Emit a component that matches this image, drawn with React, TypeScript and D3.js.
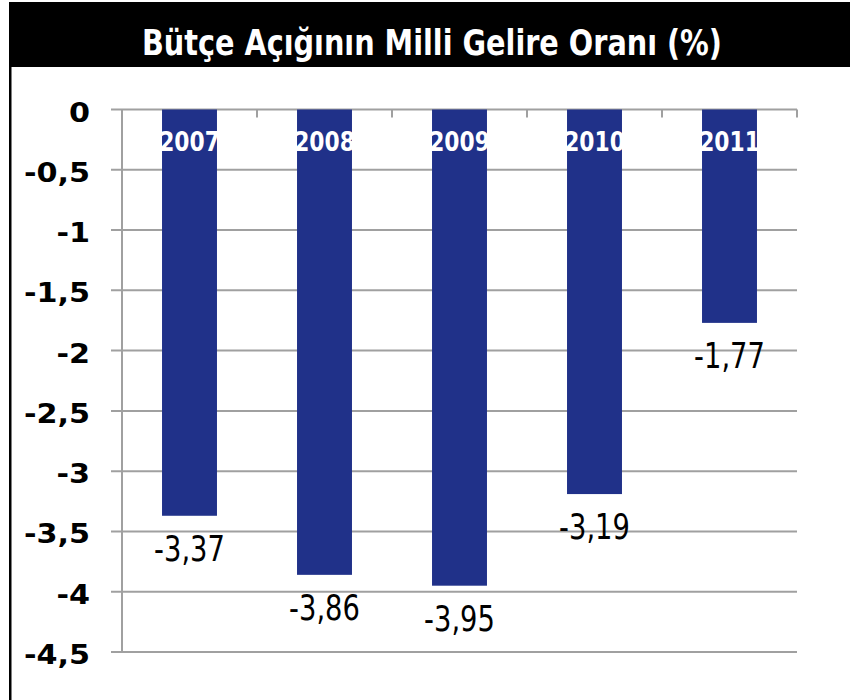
import React from 'react';
import * as d3 from 'd3';

const years = ['2007', '2008', '2009', '2010', '2011'];
const values = [-3.37, -3.86, -3.95, -3.19, -1.77];
const yTicks = [0, -0.5, -1, -1.5, -2, -2.5, -3, -3.5, -4, -4.5];
const title = 'Bütçe Açığının Milli Gelire Oranı (%)';

const W = 850;
const H = 700;
const fmt = (v: number) => String(v).replace('.', ',');

const App: React.FC = () => {
  const x = d3.scaleBand<string>()
    .domain(years)
    .range([122, 797])
    .paddingInner(0.593)
    .paddingOuter(0.2965);

  const y = d3.scaleLinear()
    .domain([-4.5, 0])
    .range([652, 109.5]);

  const step = x.step();
  const grid = '#a0a0a0';

  return (
    <svg width={W} height={H} style={{ position: 'absolute', left: 0, top: 0, background: '#fff' }}>
      {/* title band */}
      <rect x={9} y={2} width={W - 9} height={65} fill="#000" />
      <text x={432} y={55} fill="#fff" fontFamily="DejaVu Sans" fontWeight="bold" fontSize={35}
        textAnchor="middle" textLength={580} lengthAdjust="spacingAndGlyphs">{title}</text>
      <rect x={9} y={67} width={2.5} height={H - 67} fill="#000" />

      {/* gridlines + y labels */}
      {yTicks.map(t => (
        <g key={t}>
          <line x1={111} x2={797} y1={y(t)} y2={y(t)} stroke={grid} strokeWidth={2} />
          <text transform={`translate(90,${y(t) + 12}) scale(1.12,1)`} textAnchor="end"
            fontFamily="DejaVu Sans" fontWeight="bold" fontSize={27} fill="#000">{fmt(t)}</text>
        </g>
      ))}
      {/* vertical axis */}
      <line x1={122} x2={122} y1={y(0)} y2={y(-4.5)} stroke={grid} strokeWidth={2} />
      {/* category ticks */}
      {d3.range(1, years.length + 1).map(i => (
        <line key={i} x1={122 + i * step} x2={122 + i * step} y1={y(0)} y2={y(0) + 8}
          stroke={grid} strokeWidth={2} />
      ))}

      {/* bars */}
      {years.map((yr, i) => {
        const bx = x(yr)!;
        const cx = bx + x.bandwidth() / 2;
        const v = values[i];
        return (
          <g key={yr}>
            <rect x={bx} y={y(0)} width={x.bandwidth()} height={y(v) - y(0)} fill="#203189" />
            <text transform={`translate(${cx},${y(0) + 41}) scale(0.84,1)`} textAnchor="middle"
              fontFamily="DejaVu Sans" fontWeight="bold" fontSize={26} fill="#fff">{yr}</text>
            <text transform={`translate(${cx},${y(v) + 45}) scale(0.76,1)`} textAnchor="middle"
              fontFamily="DejaVu Sans" fontSize={36} fill="#000">{fmt(v)}</text>
          </g>
        );
      })}
    </svg>
  );
};

export default App;
